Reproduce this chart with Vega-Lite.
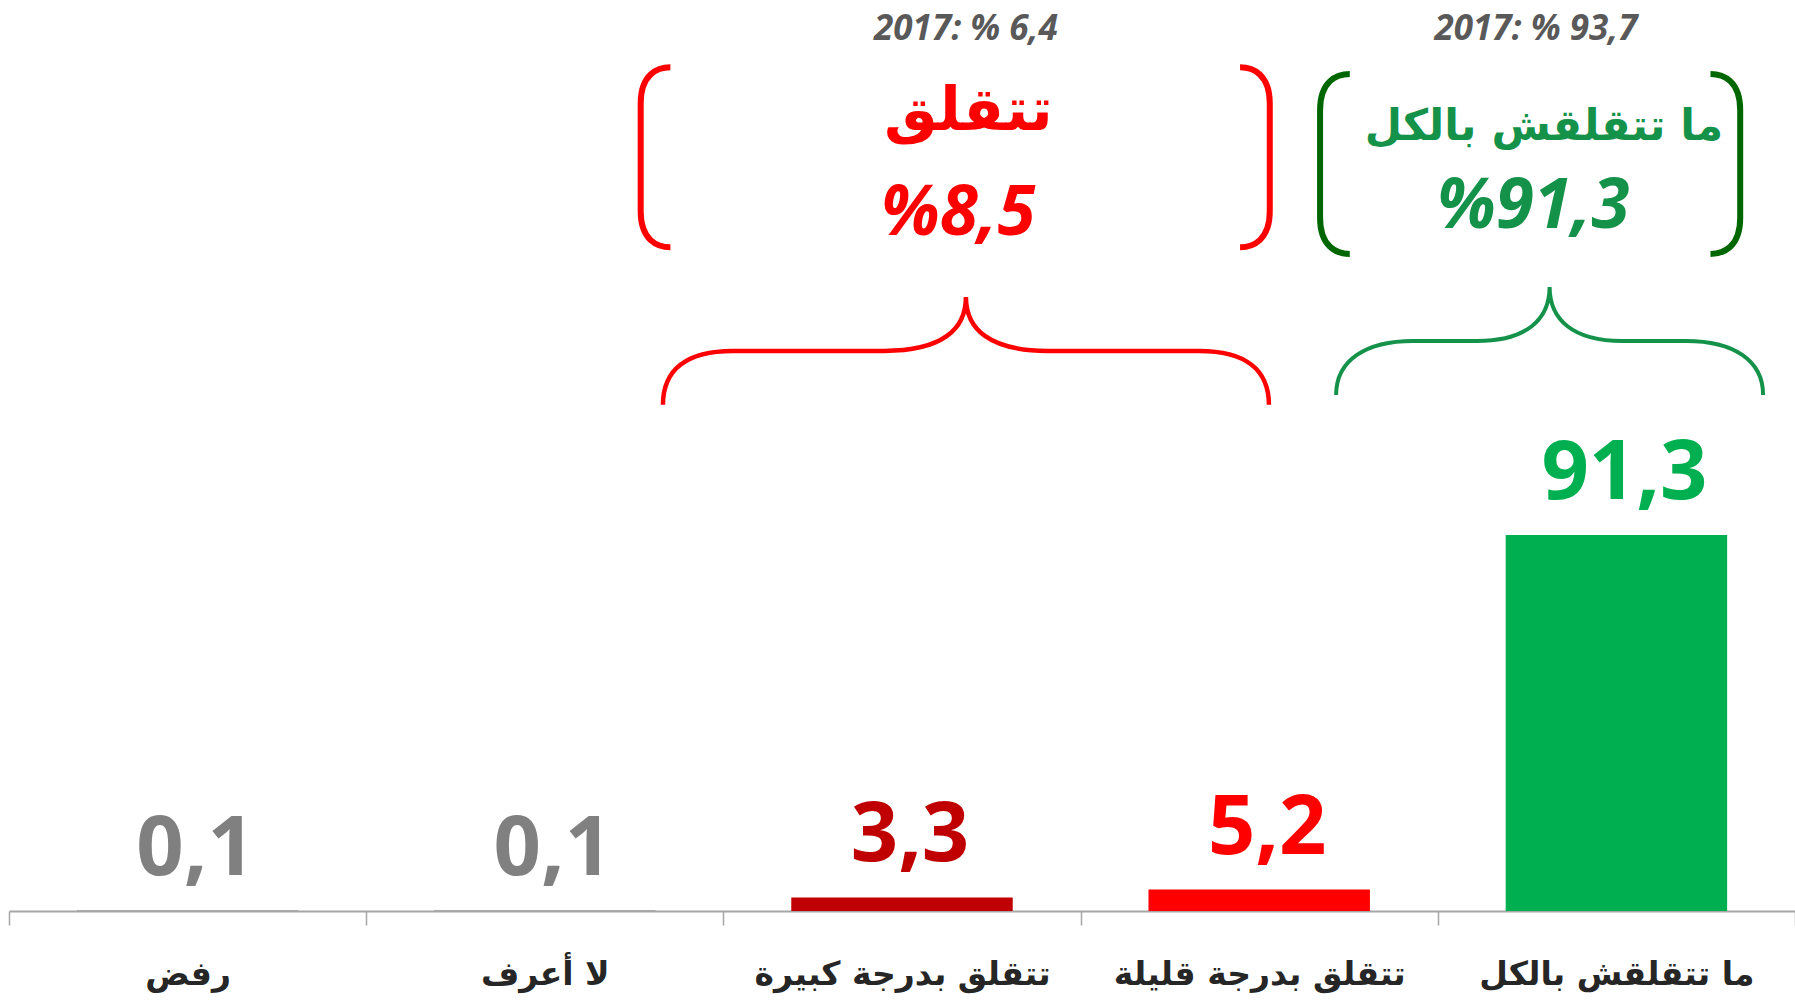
{
  "$schema": "https://vega.github.io/schema/vega-lite/v6.json",
  "width": 1786,
  "height": 911,
  "autosize": {"type": "none"},
  "padding": {"left": 9, "top": 0, "right": 0, "bottom": 92},
  "background": "#ffffff",
  "config": {
    "view": {"stroke": null},
    "locale": {"number": {"decimal": ",", "thousands": " ", "grouping": [3], "currency": ["", ""]}}
  },
  "datasets": {
    "bars": [
      {"cat": "رفض", "value": 0.1},
      {"cat": "لا أعرف", "value": 0.1},
      {"cat": "تتقلق بدرجة كبيرة", "value": 3.3},
      {"cat": "تتقلق بدرجة قليلة", "value": 5.2},
      {"cat": "ما تتقلقش بالكل", "value": 91.3}
    ]
  },
  "layer": [
    {
      "data": {"name": "bars"},
      "encoding": {
        "x": {
          "field": "cat", "type": "nominal", "sort": null,
          "scale": {"type": "band", "domain": ["رفض", "لا أعرف", "تتقلق بدرجة كبيرة", "تتقلق بدرجة قليلة", "ما تتقلقش بالكل"], "paddingInner": 0, "paddingOuter": 0},
          "axis": {
            "title": null, "labelAngle": 0, "labelFont": "DejaVu Sans", "labelFontSize": 33, "labelFontWeight": "bold",
            "labelColor": "#262626", "labelBaseline": "middle", "labelPadding": 49, "labelLimit": 0,
            "domainColor": "#A6A6A6", "domainWidth": 2, "tickBand": "extent", "tickSize": 14, "tickColor": "#A6A6A6", "tickWidth": 1.5
          }
        },
        "y": {"field": "value", "type": "quantitative", "scale": {"domain": [0, 221.2], "nice": false}, "axis": null},
        "color": {
          "field": "cat", "type": "nominal",
          "scale": {"domain": ["رفض", "لا أعرف", "تتقلق بدرجة كبيرة", "تتقلق بدرجة قليلة", "ما تتقلقش بالكل"], "range": ["#808080", "#808080", "#C00000", "#FF0000", "#00B050"]},
          "legend": null
        }
      },
      "layer": [
        {"mark": {"type": "bar", "width": {"band": 0.62}}},
        {
          "mark": {"type": "text", "font": "Open Sans", "fontSize": 83, "fontWeight": "bold", "baseline": "alphabetic", "align": "center", "dy": -36, "dx": 8},
          "encoding": {"text": {"field": "value", "type": "quantitative", "format": ".1f"}}
        }
      ]
    },
    {
      "encoding": {
        "x": {"field": "u", "type": "quantitative", "scale": {"domain": [0, 5], "nice": false, "zero": false}, "axis": null},
        "y": {"field": "v", "type": "quantitative", "scale": {"domain": [0, 221.2], "nice": false}, "axis": null}
      },
      "layer": [
        {
          "data": {"values": [
            {"u": 2.679, "v": 211.6, "t": "2017: % 6,4"},
            {"u": 4.275, "v": 211.6, "t": "2017: % 93,7"}
          ]},
          "mark": {"type": "text", "font": "Open Sans", "fontSize": 35, "fontWeight": "bold", "fontStyle": "italic", "color": "#595959", "baseline": "alphabetic", "align": "center"},
          "encoding": {"text": {"field": "t"}}
        },
        {
          "data": {"values": [{"u": 2.686, "v": 189.7, "t": "تتقلق"}]},
          "mark": {"type": "text", "font": "DejaVu Sans", "fontSize": 60, "fontWeight": "bold", "color": "#FF0000", "baseline": "alphabetic", "align": "center"},
          "encoding": {"text": {"field": "t"}}
        },
        {
          "data": {"values": [{"u": 2.657, "v": 164.2, "t": "%8,5"}]},
          "mark": {"type": "text", "font": "Open Sans", "fontSize": 69, "fontWeight": "bold", "fontStyle": "italic", "color": "#FF0000", "baseline": "alphabetic", "align": "center"},
          "encoding": {"text": {"field": "t"}}
        },
        {
          "data": {"values": [{"u": 4.297, "v": 187.2, "t": "ما تتقلقش بالكل"}]},
          "mark": {"type": "text", "font": "DejaVu Sans", "fontSize": 43, "fontWeight": "bold", "color": "#15924A", "baseline": "alphabetic", "align": "center"},
          "encoding": {"text": {"field": "t"}}
        },
        {
          "data": {"values": [{"u": 4.267, "v": 165.9, "t": "%91,3"}]},
          "mark": {"type": "text", "font": "Open Sans", "fontSize": 69, "fontWeight": "bold", "fontStyle": "italic", "color": "#15924A", "baseline": "alphabetic", "align": "center"},
          "encoding": {"text": {"field": "t"}}
        },
        {
          "data": {"values": [
            {"u": 1.810, "v": 183.0, "side": "L"},
            {"u": 3.488, "v": 183.0, "side": "R"}
          ]},
          "mark": {"type": "point", "filled": false, "color": "#FF0000", "strokeWidth": 6, "size": 32400, "opacity": 1},
          "encoding": {
            "shape": {"field": "side", "type": "nominal", "legend": null,
              "scale": {"domain": ["L", "R"], "range": [
                "M 0.165 -1 C 0.02 -1 -0.165 -0.92 -0.165 -0.6 L -0.165 0.6 C -0.165 0.92 0.02 1 0.165 1",
                "M -0.165 -1 C -0.02 -1 0.165 -0.92 0.165 -0.6 L 0.165 0.6 C 0.165 0.92 -0.02 1 -0.165 1"
              ]}}
          }
        },
        {
          "data": {"values": [
            {"u": 3.712, "v": 181.4, "side": "L"},
            {"u": 4.805, "v": 181.4, "side": "R"}
          ]},
          "mark": {"type": "point", "filled": false, "color": "#006600", "strokeWidth": 6, "size": 32400, "opacity": 1},
          "encoding": {
            "shape": {"field": "side", "type": "nominal", "legend": null}
          }
        },
        {
          "data": {"values": [{"u": 2.679, "v": 136.0}]},
          "mark": {"type": "point", "filled": false, "color": "#FF0000", "strokeWidth": 4.5, "size": 367236, "opacity": 1,
            "shape": "M -1 0.178 C -1 0.06 -0.92 0 -0.77 0 L -0.27 0 C -0.08 0 0 -0.07 0 -0.178 C 0 -0.07 0.08 0 0.27 0 L 0.77 0 C 0.92 0 1 0.06 1 0.178"}
        },
        {
          "data": {"values": [{"u": 4.313, "v": 138.4}]},
          "mark": {"type": "point", "filled": false, "color": "#15924A", "strokeWidth": 4, "size": 182329, "opacity": 1,
            "shape": "M -1 0.253 C -1 0.09 -0.86 0 -0.64 0 L -0.34 0 C -0.11 0 0 -0.1 0 -0.253 C 0 -0.1 0.11 0 0.34 0 L 0.64 0 C 0.86 0 1 0.09 1 0.253"}
        }
      ]
    }
  ],
  "resolve": {"scale": {"x": "independent", "color": "independent"}, "axis": {"x": "independent"}}
}
